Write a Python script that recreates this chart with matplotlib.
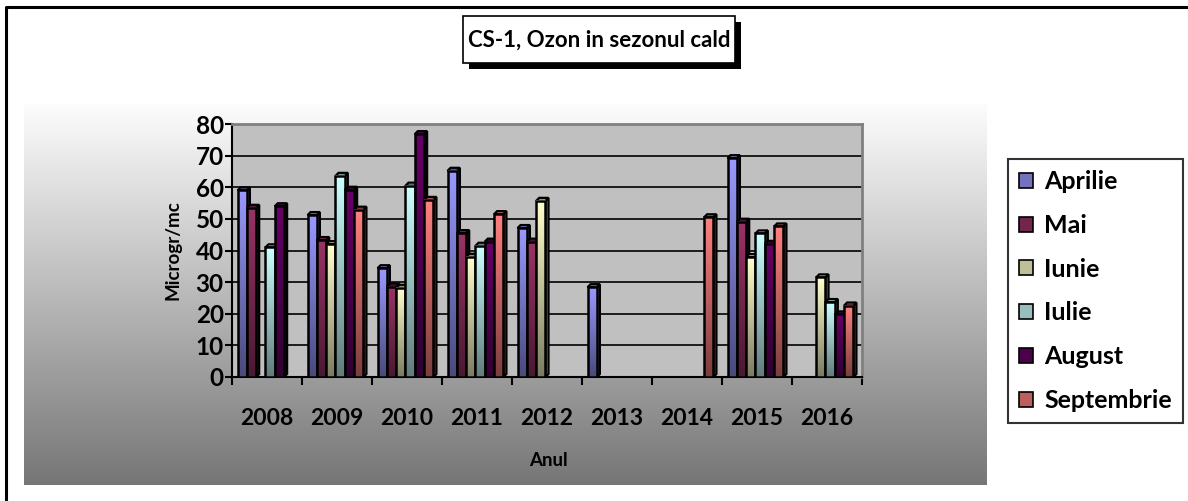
import numpy as np
import matplotlib
matplotlib.use('Agg')
import matplotlib.pyplot as plt
from matplotlib.patches import Rectangle, Polygon, Patch
from matplotlib.colors import to_rgb
from matplotlib.lines import Line2D

plt.rcParams['font.family'] = ['Lato', 'DejaVu Sans']
plt.rcParams['font.weight'] = 'bold'

nan = np.nan
years = ['2008', '2009', '2010', '2011', '2012', '2013', '2014', '2015', '2016']
series_names = ['Aprilie', 'Mai', 'Iunie', 'Iulie', 'August', 'Septembrie']
aprilie = [59, 51.2, 34.4, 65.2, 47.1, 28.4, nan, 69.2, nan]
mai = [53.5, 43.3, 28.6, 45.5, 42.8, nan, nan, 49.1, nan]
iunie = [nan, 42.0, 28.2, 38.0, 55.7, nan, nan, 37.9, 31.5]
iulie = [41.0, 63.6, 60.5, 41.5, nan, nan, nan, 45.4, 23.7]
august = [54.0, 59.2, 76.8, 42.8, nan, nan, nan, 42.1, 19.8]
septembrie = [nan, 52.9, 56.0, 51.5, nan, nan, 50.5, 47.6, 22.6]
all_series = [aprilie, mai, iunie, iulie, august, septembrie]

top_colors = ['#9999FF', '#993366', '#FFFFCC', '#CCFFFF', '#660066', '#FF8080']
bot_colors = ['#4A4A7C', '#4A1932', '#7C7C63', '#637C7C', '#310031', '#7C3E3E']

W, H = 1188, 501
fig = plt.figure(figsize=(W / 100, H / 100), dpi=100)
fig.patch.set_facecolor('white')

def fx(px):
    return px / W

def fy(py):
    return 1 - py / H

# gradient background panel
bg = fig.add_axes([fx(24), fy(485), fx(987 - 24), (485 - 103) / H], zorder=0)
g = np.linspace(0, 1, 256)[:, None]
c_top = np.array(to_rgb('#FDFDFD'))
c_bot = np.array(to_rgb('#767676'))
img = c_top[None, None, :] * (1 - g[..., None]) + c_bot[None, None, :] * g[..., None]
bg.imshow(img, aspect='auto', extent=[0, 1, 0, 1], origin='upper')
bg.set_axis_off()

# outer border
fig.add_artist(Line2D([fx(6), fx(6), fx(1188)], [fy(501), fy(7), fy(7)],
                      transform=fig.transFigure, color='black', lw=2.2))

ax = fig.add_axes([fx(232), fy(377), fx(862 - 232), (377 - 124) / H], zorder=2)
ax.set_facecolor('#C0C0C0')

n_cat = len(years)
n_ser = len(series_names)
bw = 0.133
dx = 0.043
dy = 0.95
x = np.arange(n_cat)

def darken(c, f):
    return tuple(np.array(to_rgb(c)) * f)

for ci in range(n_cat):
    for si in range(n_ser):
        v = all_series[si][ci]
        if np.isnan(v):
            continue
        x0 = x[ci] + (si - n_ser / 2) * bw - dx / 2
        x1 = x0 + bw
        z = 3 + si * 0.1
        top = np.array(to_rgb(top_colors[si]))
        bot = np.array(to_rgb(bot_colors[si]))
        gg = np.linspace(0, 1, 64)[:, None, None]
        grad = bot[None, None, :] * (1 - gg) + top[None, None, :] * gg
        ax.imshow(grad, aspect='auto', extent=[x0, x1, 0, v], origin='lower',
                  zorder=z + 0.02, interpolation='bilinear')
        side = Polygon([(x1, 0), (x1 + dx, dy), (x1 + dx, v + dy), (x1, v)], closed=True,
                       facecolor=darken(top_colors[si], 0.6), edgecolor='black', lw=1.6, zorder=z)
        topf = Polygon([(x0, v), (x0 + dx, v + dy), (x1 + dx, v + dy), (x1, v)], closed=True,
                       facecolor=darken(top_colors[si], 0.8), edgecolor='black', lw=1.6, zorder=z + 0.01)
        ax.add_patch(side)
        ax.add_patch(topf)
        ax.add_patch(Rectangle((x0, 0), bw, v, fill=False, edgecolor='black', lw=1.8, zorder=z + 0.03))

ax.set_xlim(-0.5, n_cat - 0.5)
ax.set_ylim(0, 80)
ax.set_yticks(np.arange(0, 81, 10))
ax.yaxis.grid(True, color='black', lw=1.2)
ax.set_axisbelow(True)
ax.set_xticks(x)
ax.set_xticklabels(years)
ax.set_xticks(np.arange(-0.5, n_cat, 1), minor=True)
ax.tick_params(axis='x', which='major', length=0, pad=22, labelsize=16.5)
ax.tick_params(axis='x', which='minor', length=6, width=1.5, direction='out')
ax.tick_params(axis='y', length=5, width=1.5, direction='out', labelsize=17.5, pad=1)
for lab in ax.get_xticklabels() + ax.get_yticklabels():
    lab.set_fontweight('bold')
for s in ['left', 'bottom']:
    ax.spines[s].set_color('black')
    ax.spines[s].set_linewidth(1.5)
for s in ['top', 'right']:
    ax.spines[s].set_color('#808080')
    ax.spines[s].set_linewidth(2)

ax.set_ylabel('Microgr/mc', fontsize=13.5, fontweight='bold', labelpad=10)
fig.text(fx(548), fy(460), 'Anul', fontsize=13.5, fontweight='bold', ha='center', va='center')

# title box with shadow
fig.add_artist(Rectangle((fx(469), fy(69)), fx(272), (69 - 22) / H, transform=fig.transFigure,
                         facecolor='black', edgecolor='none', zorder=5))
fig.add_artist(Rectangle((fx(463), fy(63)), fx(272), (63 - 16) / H, transform=fig.transFigure,
                         facecolor='white', edgecolor='black', lw=1.2, zorder=6))
fig.text(fx(599), fy(40), 'CS-1, Ozon in sezonul cald', fontsize=16, fontweight='bold',
         ha='center', va='center', zorder=7)

handles = [Patch(facecolor=tuple((np.array(to_rgb(top_colors[i])) + np.array(to_rgb(bot_colors[i]))) / 2),
                 edgecolor='black', lw=1.2) for i in range(n_ser)]
leg = fig.legend(handles, series_names, loc='upper left', bbox_to_anchor=(fx(1008), fy(159)),
                 bbox_transform=fig.transFigure, frameon=True, fancybox=False,
                 prop={'size': 18, 'weight': 'bold'}, handlelength=0.55, handleheight=0.55,
                 handletextpad=0.45, labelspacing=0.83, borderpad=0.45, borderaxespad=0)
leg.get_frame().set_edgecolor('black')
leg.get_frame().set_linewidth(1.5)
leg.set_zorder(8)

fig.savefig('out.png', dpi=100)
